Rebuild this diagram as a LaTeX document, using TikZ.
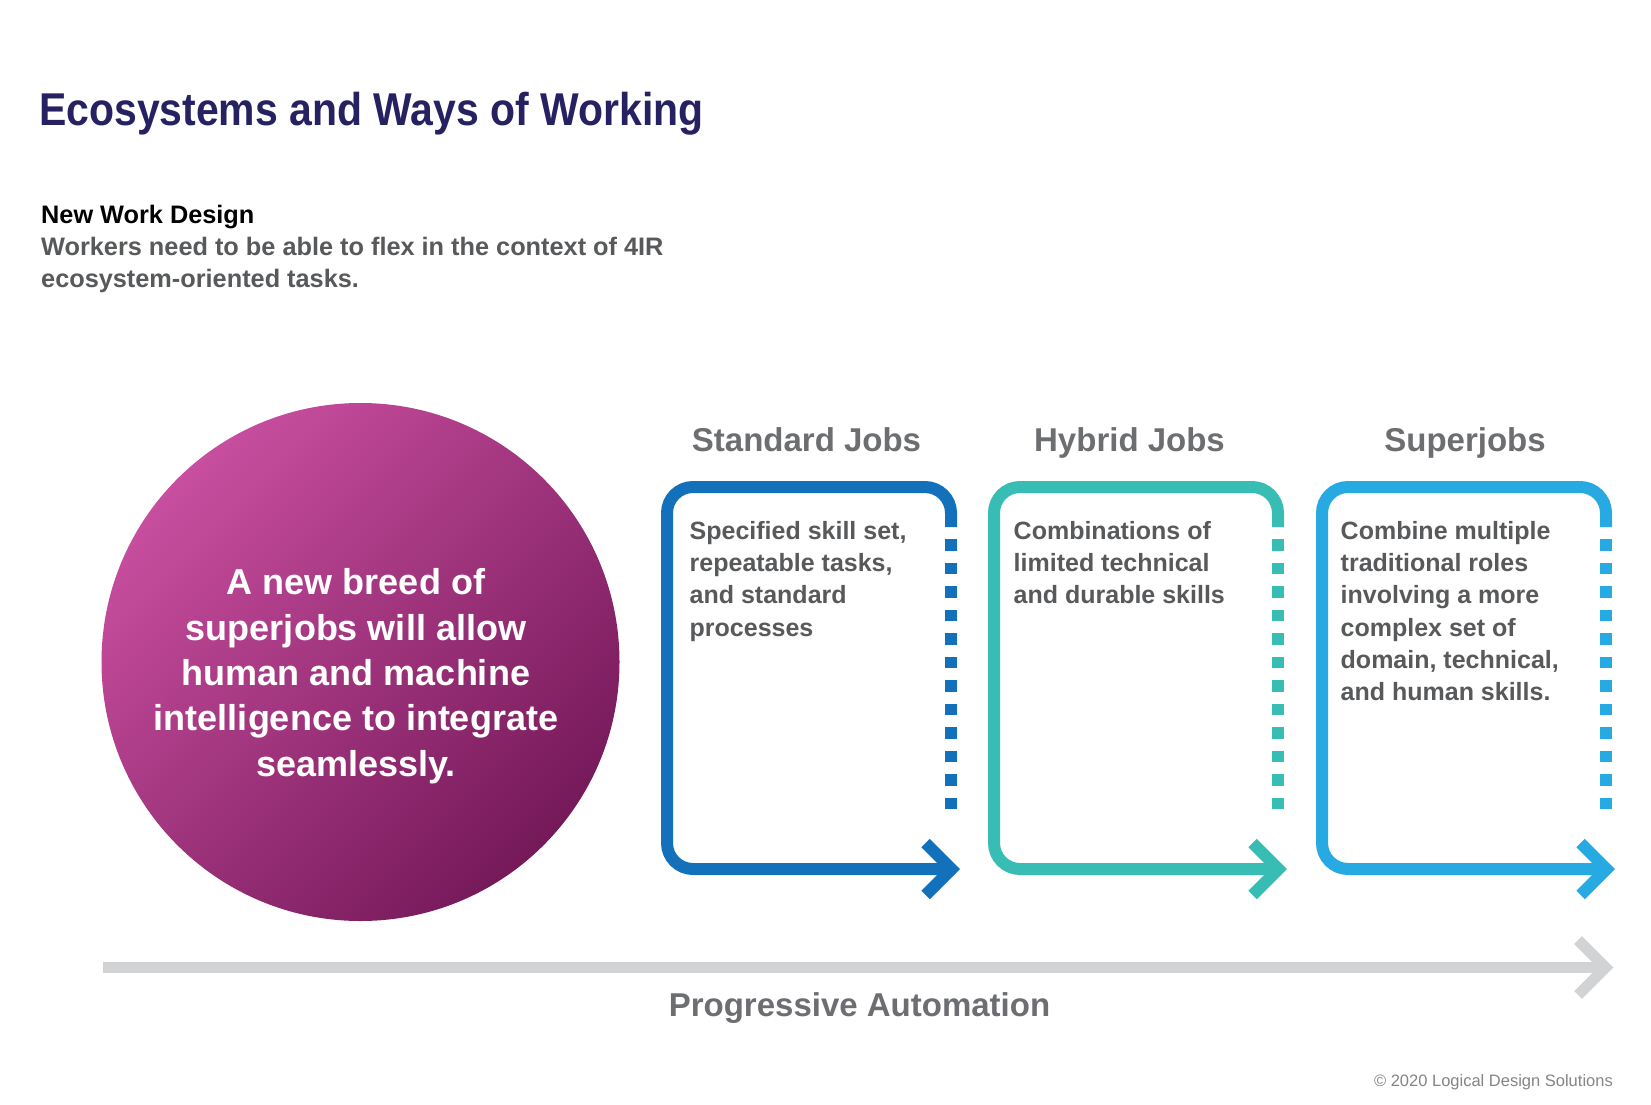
\documentclass[tikz,border=0pt]{standalone}
\usepackage{fontspec}
\setmainfont{Liberation Sans}
\newfontfamily\titlefont[FakeStretch=0.89]{Liberation Sans}

\definecolor{navy}{HTML}{262262}
\definecolor{headgrey}{HTML}{6D6E71}
\definecolor{bodygrey}{HTML}{58595B}
\definecolor{jobblue}{HTML}{1271BA}
\definecolor{jobteal}{HTML}{37BDB4}
\definecolor{jobsky}{HTML}{27AAE1}
\definecolor{axisgrey}{HTML}{D1D3D4}
\definecolor{pinklight}{HTML}{C84E9F}
\definecolor{pinkdark}{HTML}{751959}

\begin{document}
\begin{tikzpicture}[x=1pt,y=-1pt,
    jobline/.style={line width=12pt},
    jobdots/.style={line width=12pt, dash pattern=on 11.4pt off 12.1pt},
    jobtitle/.style={anchor=base, inner sep=0, text=headgrey, font=\fontsize{33}{40}\selectfont\bfseries},
    jobtext/.style={anchor=base west, inner sep=0, align=left, text=bodygrey, font=\fontsize{25}{32.3}\selectfont\bfseries}]

    \fill[white] (0,0) rectangle (1651,1105);
    \useasboundingbox (0,0) rectangle (1651,1105);

    % titulo
    \node[anchor=base west, inner sep=0, text=navy, font=\titlefont\fontsize{46}{55}\selectfont\bfseries] (title) at (39,125) {Ecosystems and Ways of Working};
    \node[anchor=base west, inner sep=0, font=\fontsize{25.3}{32}\selectfont\bfseries] (design) at (41,223.3) {New Work Design};
    % (base = ultima linea)
    \node[anchor=base west, inner sep=0, align=left, text=bodygrey, font=\fontsize{25.3}{32}\selectfont\bfseries] (designtext) at (41,287.5) {Workers need to be able to flex in the context of 4IR\\ecosystem-oriented tasks.};

    % circulo
    \shade[top color=pinklight, bottom color=pinkdark, shading angle=45] (360.5,662) circle (259);
    \node[anchor=base, inner sep=0, align=center, text=white, font=\fontsize{36}{45.3}\selectfont\bfseries] (breed) at (356,776) {A new breed of\\superjobs will allow\\human and machine\\intelligence to integrate\\seamlessly.};

    % standard jobs
    \draw[jobblue, jobline, rounded corners=26pt] (951,527) -- (951,487) -- (667,487) -- (667,869) -- (952,869);
    \draw[jobblue, jobdots] (951,539.3) -- (951,810);
    \draw[jobblue, jobline] (925.5,843) -- (951.5,869) -- (925.5,895);
    \node[jobtitle] (standard) at (806.5,451.7) {Standard Jobs};
    \node[jobtext] (standardtext) at (689.5,636.2) {Specified skill set,\\repeatable tasks,\\and standard\\processes};

    % hybrid jobs
    \draw[jobteal, jobline, rounded corners=26pt] (1278,527) -- (1278,487) -- (994,487) -- (994,869) -- (1279,869);
    \draw[jobteal, jobdots] (1278,539.3) -- (1278,810);
    \draw[jobteal, jobline] (1252.5,843) -- (1278.5,869) -- (1252.5,895);
    \node[jobtitle] (hybrid) at (1129.5,451.7) {Hybrid Jobs};
    \node[jobtext] (hybridtext) at (1013.5,603.9) {Combinations of\\limited technical\\and durable skills};

    % superjobs
    \draw[jobsky, jobline, rounded corners=26pt] (1606,527) -- (1606,487) -- (1322,487) -- (1322,869) -- (1607,869);
    \draw[jobsky, jobdots] (1606,539.3) -- (1606,810);
    \draw[jobsky, jobline] (1580.5,843) -- (1606.5,869) -- (1580.5,895);
    \node[jobtitle] (super) at (1465,451.7) {Superjobs};
    \node[jobtext] (supertext) at (1340.5,700.8) {Combine multiple\\traditional roles\\involving a more\\complex set of\\domain, technical,\\and human skills.};

    % eje de automatizacion
    \draw[axisgrey, line width=11pt] (103,967.5) -- (1605,967.5);
    \draw[axisgrey, line width=11pt] (1578,940) -- (1605.5,967.5) -- (1578,995);
    \node[jobtitle] (automation) at (859.5,1016.7) {Progressive Automation};

    % copyright
    \node[anchor=base east, inner sep=0, text=black!48, font=\fontsize{16.5}{20}\selectfont] (copy) at (1613,1086.7) {© 2020 Logical Design Solutions};

\end{tikzpicture}
\end{document}
